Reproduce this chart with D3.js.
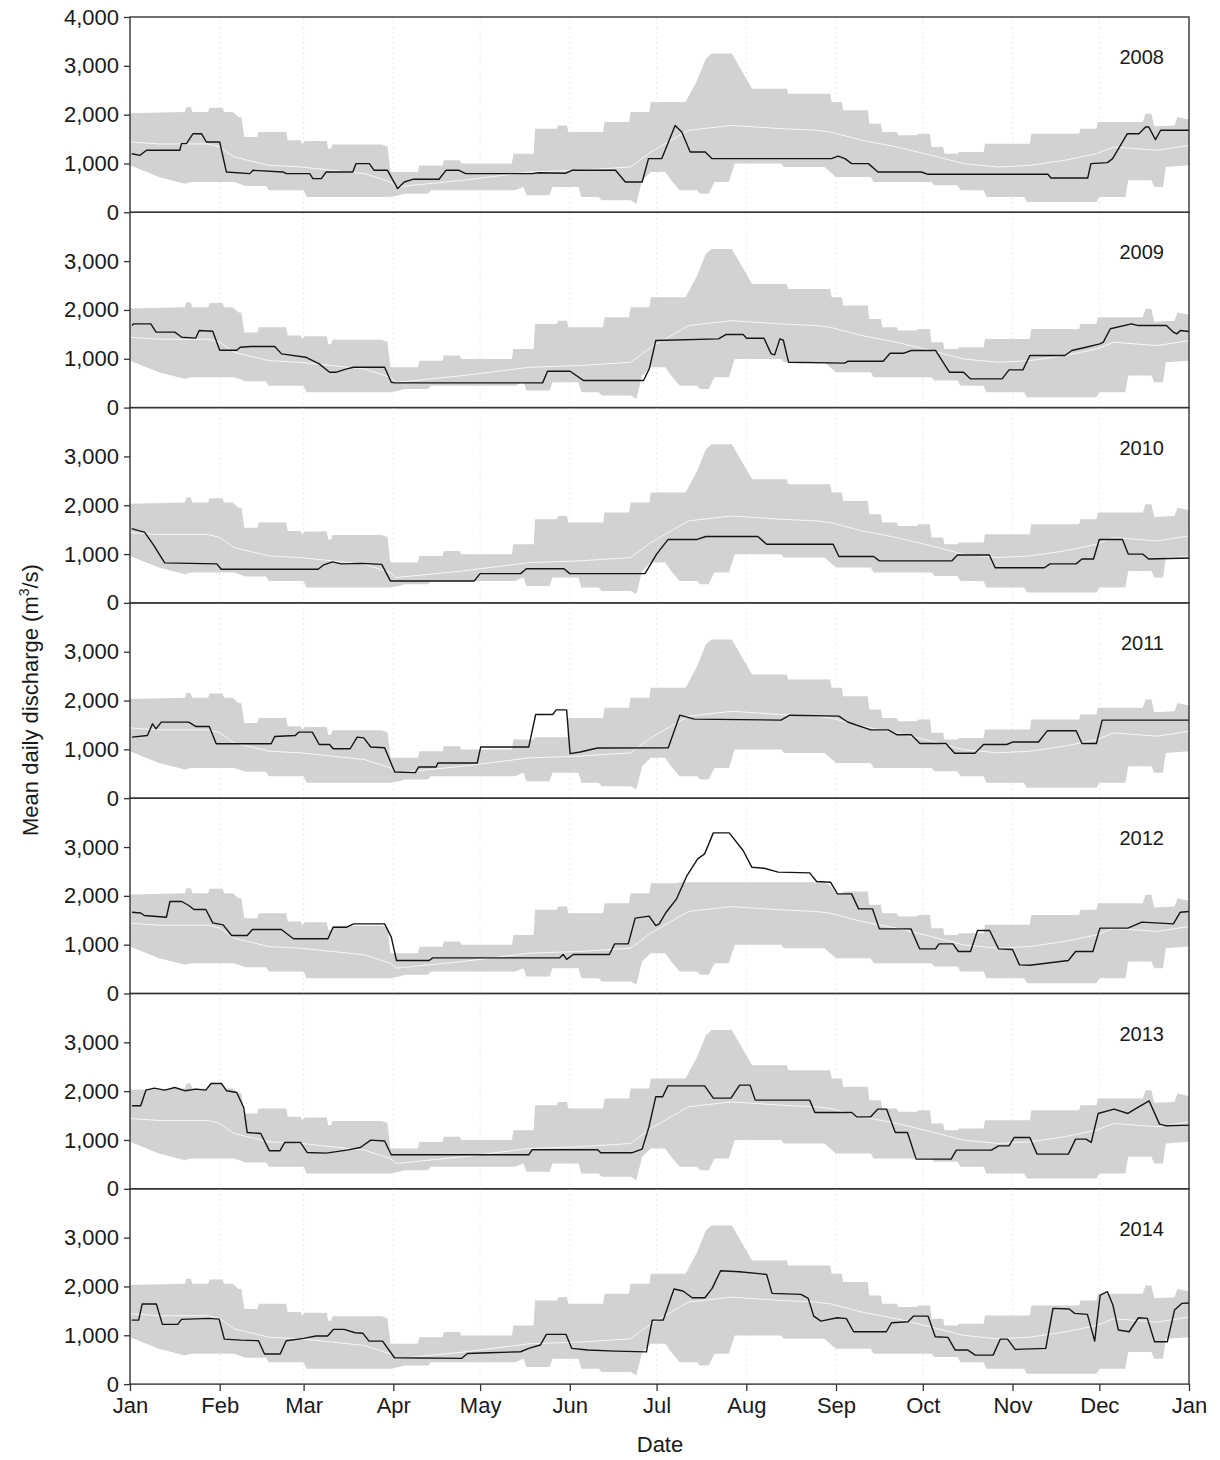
<!DOCTYPE html>
<html><head><meta charset="utf-8">
<script src="https://cdn.jsdelivr.net/npm/d3@7"></script>
<style>
body{margin:0;background:#fff}
text{font-family:"Liberation Sans",Arial,sans-serif;fill:#1a1a1a}
</style>
</head><body>
<svg id="chart" width="1220" height="1460"></svg>
<script>
// ---------- data ----------
const monthLabels = ["Jan","Feb","Mar","Apr","May","Jun","Jul","Aug","Sep","Oct","Nov","Dec","Jan"];
const monthStartDays = [0,31,60,91,121,152,182,213,244,274,305,335,366];
const years = [2008,2009,2010,2011,2012,2013,2014];
const yTicksTop = [0,1000,2000,3000,4000];
const yTicksOther = [0,1000,2000,3000];

// envelope of all years (day of year, m3/s)
const bandUpper = [[0,2030],[19,2055],[19.5,2157],[21,2157],[21.5,2055],[27,2055],[27.5,2143],[32,2143],[32.5,2055],[35.5,2055],[37.5,1950],[38.5,1950],[39.5,1540],[44,1540],[44.5,1645],[54,1645],[54.5,1475],[59,1475],[59.5,1400],[60.4,1460],[68,1460],[68.5,1300],[69.5,1300],[70,1390],[87,1390],[89,1350],[90,826],[99.5,826],[100,960],[108,960],[108.5,1065],[114,1065],[114.5,997],[132,997],[132.5,1200],[139.5,1200],[140,1713],[147.5,1713],[148,1780],[151,1780],[151.5,1645],[163.5,1645],[164,1850],[172.5,1850],[173,2055],[179.5,2055],[180,2260],[192,2260],[196,2700],[199,3147],[201,3250],[208,3250],[215,2532],[227,2532],[227.5,2430],[242,2430],[242.5,2260],[246,2260],[246.5,2089],[255,2089],[255.5,1816],[259.5,1816],[260,1645],[265,1645],[265.5,1577],[272,1577],[272.5,1610],[276.5,1610],[277,1338],[281,1338],[281.5,1200],[286,1200],[286.5,1235],[295,1235],[295.5,1406],[311,1406],[311.5,1610],[328,1610],[328.5,1713],[334,1713],[334.5,1850],[350,1850],[351,2020],[353,2020],[354,1760],[361,1780],[362,1950],[366,1900]];
const bandLower = [[0,962],[10,723],[19,587],[21,621],[36,621],[40,540],[47,540],[48,450],[60,450],[61,314],[90,314],[93,348],[95,382],[103,382],[104,450],[133,450],[136,519],[137,348],[145,348],[146,519],[155,519],[156,314],[162,314],[163,246],[173,246],[175,177],[177,655],[180,826],[185,826],[187,655],[190,450],[196,450],[197,382],[200,382],[202,621],[207,621],[209,997],[225,997],[226,928],[240,928],[244,723],[256,723],[257,621],[277,621],[278,553],[286,553],[287,450],[295,450],[296,314],[309,314],[310,212],[334,212],[335,314],[344,314],[345,655],[353,655],[354,519],[357,519],[358,928],[366,962]];
const bandMedian = [[0,1440],[10,1400],[27,1400],[31,1340],[36,1133],[48,962],[59,928],[70,860],[81,792],[90,620],[92,519],[115,655],[138,826],[155,860],[173,928],[180,1235],[193,1680],[208,1780],[225,1713],[237,1680],[242,1645],[253,1475],[265,1338],[277,1167],[288,997],[300,928],[311,962],[323,1065],[334,1200],[340,1338],[355,1270],[366,1372]];

// upper envelope where the panel's own year is left out
const upperWithout2011 = [[139.6,1200],[139.8,1250],[151.2,1250],[151.4,1645]];
const upperWithout2012 = [[189,2260],[190,2280],[240,2280],[242,2210],[244,2041],[246.3,2041]];

// daily discharge of each year
const flow2008 = [[0.6,1200],[3.5,1167],[5.7,1270],[17.2,1270],[17.8,1406],[19.5,1406],[21.8,1610],[24.7,1610],[26.4,1440],[31,1440],[33.3,826],[41.4,792],[42.5,860],[52.9,826],[54,792],[62.1,792],[63.2,690],[66.1,690],[67.8,826],[77,826],[78.1,997],[82.7,997],[84.4,860],[89,860],[92.5,485],[94.8,621],[97.7,676],[106.8,676],[109.2,860],[113.7,860],[116,792],[139,792],[141.3,810],[150.5,800],[152.8,860],[167.8,860],[171.2,621],[177,621],[179.2,1100],[183.8,1100],[188.4,1780],[190.7,1645],[193.6,1235],[198.8,1235],[201.1,1100],[242.4,1100],[244.7,1150],[247.1,1100],[249.4,997],[255.2,997],[258.5,826],[273.5,826],[275.8,778],[317.2,778],[318.3,703],[331,703],[332.1,997],[337.8,1017],[339.6,1100],[344.7,1610],[348.7,1610],[351,1747],[352.1,1747],[354.4,1488],[356.2,1680],[366,1680]];
const flow2009 = [[0.7,1680],[1.3,1715],[7.2,1715],[9,1545],[15.5,1545],[17.9,1442],[22.7,1422],[23.9,1579],[28.6,1565],[31,1176],[36.9,1176],[38.1,1237],[41.7,1251],[50,1251],[52.4,1100],[60.7,1032],[65.4,895],[69,725],[71.3,725],[74.9,793],[77.3,827],[88,827],[90.3,520],[91.5,506],[142.6,506],[144.3,745],[152.1,745],[156.8,554],[177.5,554],[179.5,800],[181.7,1373],[203.4,1407],[205.9,1496],[211.9,1496],[213.1,1420],[219.1,1420],[221.6,1100],[222.8,1080],[224.6,1407],[225.8,1380],[227.6,930],[247,910],[248.2,950],[260.3,950],[262.7,1114],[267.5,1114],[270,1170],[278.4,1170],[283.2,725],[288.1,725],[290.5,588],[301.4,588],[303.8,773],[308.6,773],[311,1067],[323.1,1067],[325.5,1170],[330.4,1237],[335.2,1306],[336.4,1340],[338.8,1614],[346.1,1716],[348.5,1680],[358.2,1680],[360.6,1545],[361.8,1510],[363,1579],[366,1560]];
const flow2010 = [[0.6,1520],[3,1480],[5,1450],[8,1200],[12,820],[30,800],[31.5,690],[65,690],[67,780],[70,840],[73,800],[80,810],[87,790],[90,450],[119,450],[121,600],[135,600],[137,700],[150,700],[152,600],[178,600],[182,1000],[186,1300],[196,1300],[199,1360],[217,1360],[220,1200],[243,1200],[245,950],[257,950],[259,860],[284,860],[286,980],[297,980],[299,720],[316,720],[318,800],[327,800],[329,900],[333,900],[335,1300],[343,1300],[345,1000],[350,1000],[352,900],[366,920]];
const flow2011 = [[0.7,1250],[6,1285],[7.8,1524],[9,1420],[10.8,1558],[20.3,1558],[22.7,1470],[27.4,1470],[29.8,1115],[48.8,1115],[50,1265],[57.1,1285],[58.3,1353],[63,1353],[65.4,1100],[69,1100],[70.2,1013],[76.1,1013],[78.5,1250],[80.8,1236],[83.2,1048],[88,1034],[91.5,537],[98.6,524],[99.8,640],[105.8,640],[106.4,721],[120,721],[121.2,1048],[137.8,1048],[140.2,1714],[146.1,1714],[147.3,1810],[150.9,1810],[152.1,912],[155.6,946],[161.6,1027],[186,1030],[190,1700],[195,1620],[225,1600],[228,1700],[245,1680],[248,1560],[256,1400],[262,1400],[265,1300],[270,1300],[273,1120],[282,1120],[285,920],[292,920],[295,1100],[303,1100],[305,1150],[314,1150],[317,1380],[327,1380],[329,1120],[334,1120],[336,1600],[366,1600]];
const flow2012 = [[0.7,1665],[3.7,1650],[4.9,1597],[12.6,1563],[13.8,1884],[17.9,1884],[20.3,1802],[22.1,1720],[26.2,1720],[28.6,1447],[32.2,1406],[35.1,1188],[40.5,1188],[42.3,1310],[52.3,1310],[56.5,1120],[68.4,1120],[70.2,1358],[74.9,1358],[77.3,1427],[88,1427],[90.3,1154],[92.1,676],[103.4,676],[104.6,730],[148.5,730],[149.7,800],[150.9,700],[153.2,800],[165.7,800],[167.5,1017],[172.2,1017],[174.6,1543],[179.4,1584],[181.7,1392],[182.9,1427],[185.3,1665],[188.9,1939],[192.5,2416],[196.2,2758],[198.6,2860],[201.6,3290],[207.1,3290],[211.9,2928],[214.9,2587],[219.2,2566],[224,2485],[234.9,2470],[237.3,2293],[242.1,2280],[244.5,2041],[249.4,2041],[251.8,1734],[256.6,1734],[259,1324],[269.9,1324],[272.9,915],[278.4,915],[279.6,1017],[284.4,1017],[286.3,860],[290.5,860],[292.9,1290],[297.1,1290],[300.2,915],[305,900],[307.4,587],[311,580],[324.3,676],[326.8,860],[332.8,860],[335.2,1338],[344.9,1338],[349.7,1461],[360.6,1427],[363,1665],[366,1680]];
const flow2013 = [[0.7,1700],[3.7,1700],[5.5,2020],[8.4,2061],[12,2020],[15.5,2075],[19.1,2007],[22.7,2041],[26.2,2020],[28,2157],[31.6,2157],[33.4,2007],[36.9,1973],[39.3,1665],[40.5,1154],[45.2,1133],[48.2,778],[51.8,778],[53.5,949],[58.9,949],[61.2,744],[67.8,730],[74.9,792],[79.6,846],[83.2,997],[88,980],[90.3,696],[137.8,696],[139,800],[161.6,800],[162.7,737],[173.4,737],[177,812],[179.3,1256],[181.7,1884],[184.1,1884],[185.9,2109],[198.6,2109],[201.6,1857],[207.7,1857],[210.7,2123],[214.3,2123],[216.1,1816],[234.9,1816],[236.7,1563],[249.4,1563],[251.2,1474],[256,1474],[258.4,1631],[261.5,1631],[264.5,1154],[268.7,1154],[271.7,608],[283.8,608],[285.6,792],[297.7,792],[300.2,880],[303.8,880],[305.6,1051],[311,1051],[313.5,710],[324.3,710],[326.8,1017],[330.4,1017],[332.2,949],[334.6,1543],[340.1,1631],[344.9,1543],[347.3,1631],[352.2,1802],[355.8,1324],[358.2,1290],[363.6,1300],[366,1300]];
const flow2014 = [[0.6,1311],[3,1311],[4.2,1640],[9.1,1640],[11.2,1223],[16.5,1223],[17.8,1325],[27.4,1346],[30.8,1330],[32.6,922],[38.3,900],[44.4,888],[46.5,615],[51.9,615],[54,888],[60.1,936],[64.2,984],[68.3,984],[70.3,1120],[74,1120],[77.8,1052],[80.5,1040],[82.6,881],[87.3,881],[91.4,540],[114.6,526],[116.6,628],[124.2,642],[135,663],[137.8,731],[141.8,800],[143.9,1018],[150.7,1018],[152.7,731],[158.2,697],[167.7,676],[178.5,660],[179.3,936],[180.5,1311],[184.3,1311],[188,1947],[191.1,1906],[194.3,1769],[198.7,1769],[201.2,1960],[204.1,2322],[210.6,2302],[220,2247],[221.9,1858],[231.9,1837],[234.4,1755],[236.3,1393],[238.8,1291],[244.4,1359],[247.6,1340],[250.1,1072],[261.4,1072],[263.2,1257],[268.9,1277],[270.8,1393],[275.8,1393],[278.3,970],[282.7,956],[285.2,697],[289.6,697],[292.1,594],[298.3,594],[300.8,922],[303.3,922],[305.9,710],[316.5,731],[319,1551],[324.6,1537],[326.5,1448],[330.9,1428],[333.4,881],[335.3,1824],[337.8,1892],[339.7,1619],[341.6,1107],[345.3,1072],[348.5,1359],[351.6,1346],[354.1,867],[358.5,867],[361,1516],[363.5,1653],[366,1660]];

const flows = [flow2008, flow2009, flow2010, flow2011, flow2012, flow2013, flow2014];
const upperOverrides = {2011: upperWithout2011, 2012: upperWithout2012};

// ---------- layout ----------
const left = 130, right = 1189, top0 = 17, panelH = 195.3;
const svg = d3.select("#chart");
const x = d3.scaleLinear().domain([0, 366]).range([left, right]);
const y = d3.scaleLinear().domain([0, 4000]).range([panelH, 0]);
const line = d3.line().x(d => x(d[0])).y(d => y(d[1]));

function upperFor(yr) {
  const ov = upperOverrides[yr];
  if (!ov) return bandUpper;
  const a = ov[0][0], b = ov[ov.length - 1][0];
  return bandUpper.filter(d => d[0] < a || d[0] > b).concat(ov).sort((p, q) => p[0] - q[0]);
}

years.forEach((yr, i) => {
  const g = svg.append("g").attr("transform", `translate(0,${top0 + i * panelH})`);
  g.append("clipPath").attr("id", "clip" + i).append("rect")
    .attr("x", left).attr("y", 0).attr("width", right - left).attr("height", panelH);
  const inner = g.append("g").attr("clip-path", `url(#clip${i})`);

  inner.selectAll("line.grid").data(monthStartDays.slice(1, -1)).join("line")
    .attr("class", "grid")
    .attr("x1", d => x(d)).attr("x2", d => x(d)).attr("y1", 0).attr("y2", panelH)
    .attr("stroke", "#e8e8e8").attr("stroke-width", 1).attr("stroke-dasharray", "2,3");

  const poly = upperFor(yr).concat(bandLower.slice().reverse());
  inner.append("path").attr("d", line(poly) + "Z").attr("fill", "#d2d2d2").attr("stroke", "none");

  inner.append("path").attr("d", line(bandMedian)).attr("fill", "none")
    .attr("stroke", "#f7f7f7").attr("stroke-width", 1);

  inner.append("path").attr("d", line(flows[i])).attr("fill", "none")
    .attr("stroke", "#151515").attr("stroke-width", 1.4).attr("stroke-linejoin", "round");

  g.append("rect").attr("x", left).attr("y", 0).attr("width", right - left).attr("height", panelH)
    .attr("fill", "none").attr("stroke", "#333").attr("stroke-width", 1.4);

  const ay = g.append("g").attr("transform", `translate(${left},0)`)
    .call(d3.axisLeft(y).tickValues(i === 0 ? yTicksTop : yTicksOther)
      .tickFormat(d3.format(",")).tickSize(6).tickSizeOuter(0).tickPadding(5));
  ay.select(".domain").remove();
  ay.selectAll("line").attr("stroke", "#333").attr("stroke-width", 1.3);
  ay.selectAll("text").attr("font-size", 22).attr("fill", "#1a1a1a")
    .style("font-family", '"Liberation Sans", Arial, sans-serif');

  g.append("text").attr("x", 1164).attr("y", 47).attr("text-anchor", "end")
    .attr("font-size", 20).text(yr);
});

const ax = svg.append("g").attr("transform", `translate(0,${top0 + years.length * panelH})`)
  .call(d3.axisBottom(x).tickValues(monthStartDays).tickFormat((d, i) => monthLabels[i])
    .tickSize(7).tickSizeOuter(0).tickPadding(6));
ax.select(".domain").remove();
ax.selectAll("line").attr("stroke", "#333").attr("stroke-width", 1.3);
ax.selectAll("text").attr("font-size", 22).attr("fill", "#1a1a1a")
  .style("font-family", '"Liberation Sans", Arial, sans-serif');

svg.append("text").attr("x", 660).attr("y", 1452).attr("text-anchor", "middle")
  .attr("font-size", 22).text("Date");
const yt = svg.append("text").attr("transform", "translate(38,700) rotate(-90)")
  .attr("text-anchor", "middle").attr("font-size", 22);
yt.append("tspan").text("Mean daily discharge (m");
yt.append("tspan").attr("font-size", 14).attr("dy", -9).text("3");
yt.append("tspan").attr("dy", 9).text("/s)");
</script>
</body></html>
